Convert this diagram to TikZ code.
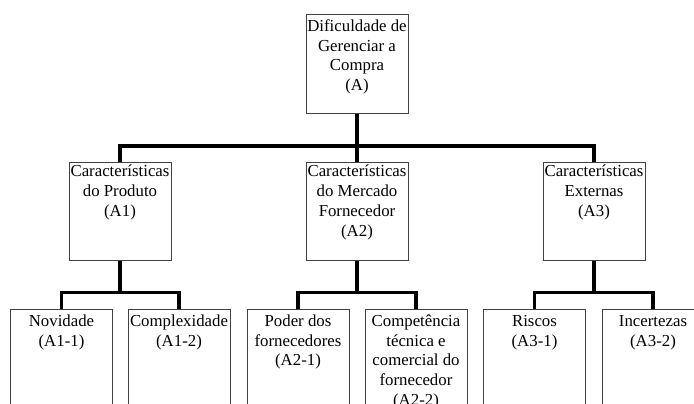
\documentclass[tikz,border=0pt]{standalone}
\usepackage{fontspec}
\setmainfont{Liberation Serif}
\begin{document}
\begin{tikzpicture}[x=1bp,y=-1bp,
  box/.style={draw=black!75, line width=1bp, fill=white, inner sep=0pt, minimum width=102bp},
  txt/.style={anchor=north, inner sep=0pt, align=center, font=\fontsize{16.8bp}{19.8bp}\selectfont},
  conn/.style={line width=3.2bp, line join=miter}]
\useasboundingbox (0,0) rectangle (694,403);
\clip (0,0) rectangle (694,403);
% boxes
\node[box, minimum height=98.3bp] (A) at (357,63.85) {};
\node[box, minimum height=98bp] (A1) at (120,211) {};
\node[box, minimum height=98bp] (A2) at (357,211) {};
\node[box, minimum height=98bp] (A3) at (594,211) {};
\node[box, minimum height=121bp] (B11) at (61.5,369.5) {};
\node[box, minimum height=121bp] (B12) at (179,369.5) {};
\node[box, minimum height=121bp] (B21) at (298,369.5) {};
\node[box, minimum height=121bp] (B22) at (416,369.5) {};
\node[box, minimum height=121bp] (B31) at (534.5,369.5) {};
\node[box, minimum height=121bp] (B32) at (653,369.5) {};
% connectors
\coordinate (bar) at (357,146);
\coordinate (bar1) at (120,292.5);
\coordinate (bar2) at (357,292.5);
\coordinate (bar3) at (594,292.5);
\draw[conn] (A.south) -- (A2.north);
\draw[conn] (A1.north) -- (A1.north |- bar) -- (A3.north |- bar) -- (A3.north);
\draw[conn] (A1.south) -- (bar1);
\draw[conn] (B11.north) -- (B11.north |- bar1) -- (B12.north |- bar1) -- (B12.north);
\draw[conn] (A2.south) -- (bar2);
\draw[conn] (B21.north) -- (B21.north |- bar2) -- (B22.north |- bar2) -- (B22.north);
\draw[conn] (A3.south) -- (bar3);
\draw[conn] (B31.north) -- (B31.north |- bar3) -- (B32.north |- bar3) -- (B32.north);
% texts
\node[txt, yshift=-3.1bp] (At) at (A.north) {\strut Dificuldade de\\Gerenciar a\\Compra\\(A)};
\node[txt, yshift=-1.3bp] (A1t) at (A1.north) {\strut Características\\do Produto\\(A1)};
\node[txt, yshift=-1.3bp] (A2t) at (A2.north) {\strut Características\\do Mercado\\Fornecedor\\(A2)};
\node[txt, yshift=-1.3bp] (A3t) at (A3.north) {\strut Características\\Externas\\(A3)};
\node[txt, yshift=-3.8bp] (B11t) at (B11.north) {\strut Novidade\\(A1-1)};
\node[txt, yshift=-3.8bp] (B12t) at (B12.north) {\strut Complexidade\\(A1-2)};
\node[txt, yshift=-3.8bp] (B21t) at (B21.north) {\strut Poder dos\\fornecedores\\(A2-1)};
\node[txt, yshift=-3.8bp] (B22t) at (B22.north) {\strut Competência\\técnica e\\comercial do\\fornecedor\\(A2-2)};
\node[txt, yshift=-3.8bp] (B31t) at (B31.north) {\strut Riscos\\(A3-1)};
\node[txt, yshift=-3.8bp] (B32t) at (B32.north) {\strut Incertezas\\(A3-2)};
\end{tikzpicture}
\end{document}
